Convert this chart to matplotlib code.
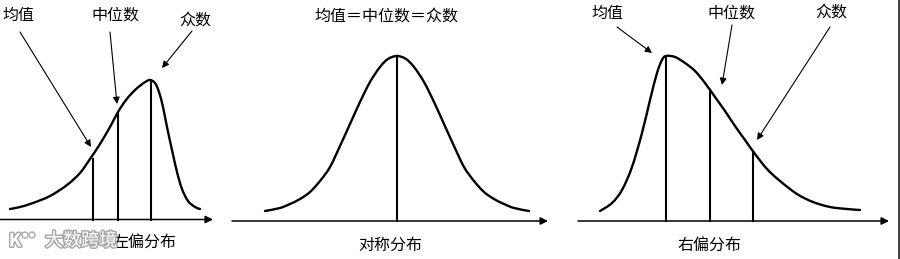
import matplotlib
matplotlib.use("Agg")
import matplotlib.pyplot as plt
import matplotlib.patheffects as pe
from matplotlib.patches import Circle, PathPatch
from matplotlib.path import Path

plt.rcParams['font.family'] = ['Noto Sans CJK SC', 'DejaVu Sans']

# ---- data (image pixel units) ----
# Left-skewed
left_x = [10, 20, 33, 50, 67, 80, 90, 100, 110, 118, 126, 134, 141, 146, 150, 155, 159, 163, 167, 172, 177, 182, 188, 195, 200]
left_y = [209, 207, 203, 196, 185, 173, 159, 144, 127, 112, 100, 91, 85, 81.5, 80, 83, 92, 107, 127, 150, 172, 189, 201, 207, 209]
left_lines_x = [92.7, 117.7, 150.7]
left_lines_top = [159, 112, 80]

# Symmetric
sym_x = [265, 280, 290, 300, 310, 320, 330, 340, 350, 360, 370, 380, 388, 397,
         406, 414, 424, 434, 444, 454, 464, 474, 484, 494, 504, 514, 529]
sym_y = [211, 208, 204, 199, 192, 181, 167, 146, 124, 102, 82, 67, 59, 56,
         59, 67, 82, 102, 124, 146, 167, 181, 192, 199, 204, 208, 211]
sym_lines_x = [397]
sym_lines_top = [56]

# Right-skewed
right_x = [600, 612, 622, 632, 642, 650, 657, 662, 666, 675, 685, 695, 705, 715, 725, 735, 745, 755, 767, 780, 797, 813, 830, 847, 860]
right_y = [211, 203, 190, 167, 133, 100, 73, 60, 56, 57, 63, 71, 83, 97, 111, 126, 140, 154, 169, 181, 194, 202, 207, 209, 210]
right_lines_x = [665.7, 710, 753]
right_lines_top = [56, 92, 152]

labels_three = ['均值', '中位数', '众数']
titles = ['左偏分布', '对称分布', '右偏分布']
sym_label = '均值＝中位数＝众数'

fig = plt.figure(figsize=(9, 2.59), dpi=100)
ax = fig.add_axes([0, 0, 1, 1])
ax.set_xlim(0, 900)
ax.set_ylim(259, 0)
ax.axis('off')

CURVE_LW = 1.7
VL_LW = 1.5
AX_LW = 1.1
FS = 11.5

def smooth_curve(xs, ys):
    """Draw a smooth curve through the points using cubic Bezier segments."""
    pts = list(zip(xs, ys))
    n = len(pts)
    verts = [pts[0]]
    codes = [Path.MOVETO]
    for i in range(n - 1):
        p0 = pts[i - 1] if i > 0 else pts[i]
        p1 = pts[i]
        p2 = pts[i + 1]
        p3 = pts[i + 2] if i + 2 < n else pts[i + 1]
        c1 = (p1[0] + (p2[0] - p0[0]) / 6, p1[1] + (p2[1] - p0[1]) / 6)
        c2 = (p2[0] - (p3[0] - p1[0]) / 6, p2[1] - (p3[1] - p1[1]) / 6)
        verts += [c1, c2, p2]
        codes += [Path.CURVE4] * 3
    ax.add_patch(PathPatch(Path(verts, codes), facecolor='none', edgecolor='black',
                           lw=CURVE_LW, capstyle='round', joinstyle='round'))

def axis_arrow(x0, x1, y):
    ax.annotate('', xy=(x1, y), xytext=(x0, y),
                arrowprops=dict(arrowstyle='-|>', color='black', lw=AX_LW,
                                mutation_scale=11, shrinkA=0, shrinkB=0))

def pointer(tail, tip):
    ax.annotate('', xy=tip, xytext=tail,
                arrowprops=dict(arrowstyle='-|>', color='black', lw=0.8,
                                mutation_scale=10, shrinkA=0, shrinkB=0))

# Panel 1
smooth_curve(left_x, left_y)
axis_arrow(0, 213, 219.5)
for x, t in zip(left_lines_x, left_lines_top):
    ax.plot([x, x], [t, 219.5], color='black', lw=VL_LW)
ax.text(18, 15, labels_three[0], fontsize=FS, ha='center', va='center')
ax.text(115, 15, labels_three[1], fontsize=FS, ha='center', va='center')
ax.text(195, 21, labels_three[2], fontsize=FS, ha='center', va='center')
pointer((20, 32), (91, 147))
pointer((110, 32), (117, 104))
pointer((192, 31), (162, 68))
ax.text(145, 242, titles[0], fontsize=FS, ha='center', va='center')

# Panel 2
smooth_curve(sym_x, sym_y)
axis_arrow(232, 548, 221)
for x, t in zip(sym_lines_x, sym_lines_top):
    ax.plot([x, x], [t, 221], color='black', lw=VL_LW)
ax.text(386, 17, sym_label, fontsize=FS, ha='center', va='center')
ax.text(390, 245, titles[1], fontsize=FS, ha='center', va='center')

# Panel 3
smooth_curve(right_x, right_y)
axis_arrow(578, 889, 221)
for x, t in zip(right_lines_x, right_lines_top):
    ax.plot([x, x], [t, 221], color='black', lw=VL_LW)
ax.text(607, 13, labels_three[0], fontsize=FS, ha='center', va='center')
ax.text(731, 13, labels_three[1], fontsize=FS, ha='center', va='center')
ax.text(831, 13, labels_three[2], fontsize=FS, ha='center', va='center')
pointer((617, 27), (652, 53))
pointer((732, 25), (722, 85))
pointer((830, 27), (757, 140))
ax.text(710, 245, titles[2], fontsize=FS, ha='center', va='center')

# right border
ax.plot([899, 899], [0, 259], color='#222222', lw=1.2)

# watermark
wm_fx = [pe.withStroke(linewidth=2.2, foreground='#aaaaaa')]
ax.text(81, 241, '大数跨境', fontsize=13, color='white', ha='center', va='center',
        path_effects=wm_fx, zorder=5)
ax.text(15, 241, 'K', fontsize=13, color='white', ha='center', va='center',
        path_effects=wm_fx, zorder=5, fontweight='bold')
for cx in (25, 32):
    ax.add_patch(Circle((cx, 235), 3, facecolor='white', edgecolor='#aaaaaa', lw=1.0, zorder=5))

fig.savefig('out.png', dpi=100)
